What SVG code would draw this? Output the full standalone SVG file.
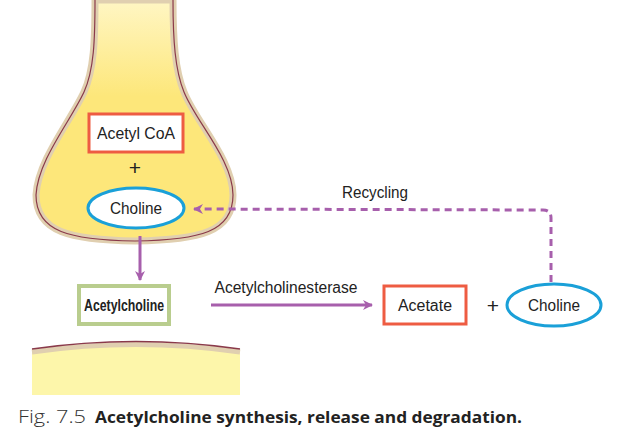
<svg xmlns="http://www.w3.org/2000/svg" width="626" height="443" viewBox="0 0 626 443">
<defs>
<linearGradient id="g" x1="0" y1="0" x2="0" y2="1"><stop offset="0" stop-color="#fff6c4"/><stop offset="0.4" stop-color="#fde77a"/><stop offset="1" stop-color="#fde77a"/></linearGradient>
<marker id="a" markerWidth="10" markerHeight="10" refX="9" refY="5" orient="auto" markerUnits="userSpaceOnUse"><path d="M0,0 L10,5 L0,10 L3,5 Z" fill="#a75fac"/></marker>
</defs>
<style>
.t{font-family:"Liberation Sans",Arial,sans-serif;font-size:16px;fill:#222;text-anchor:middle}
.c{fill:none;stroke:#a75fac;stroke-width:3}
</style>
<g id="presynaptic">
<path d="M95,0 C95,40 94,70 84,92 C70,122 38,160 36,195 C36,232 70,240 135,241 C200,240 233,232 233,195 C233,160 196,122 184,92 C175,70 173,40 173,0 Z" fill="url(#g)" stroke="#e0cfb0" stroke-width="7"/>
<path d="M95,0 C95,40 94,70 84,92 C70,122 38,160 36,195 C36,232 70,240 135,241 C200,240 233,232 233,195 C233,160 196,122 184,92 C175,70 173,40 173,0" fill="none" stroke="#8a3a4a" stroke-width="1.2"/>
</g>
<g id="postsynaptic">
<path d="M32,352 Q136,337 240,352 L240,395 L32,395 Z" fill="#fdf6aa"/>
<path d="M32,352 Q136,337 240,352" fill="none" stroke="#e0cfb0" stroke-width="5"/>
<path d="M32,349 Q136,334 240,349" fill="none" stroke="#8a3a4a" stroke-width="1.5"/>
</g>
<g id="acetylcoa"><rect x="89" y="114" width="94" height="38" fill="#fff" stroke="#ee5c42" stroke-width="3"/><text class="t" x="136" y="139" textLength="78" lengthAdjust="spacingAndGlyphs">Acetyl CoA</text></g>
<text class="t" x="135" y="175" style="font-size:21px">+</text>
<g id="choline1"><ellipse cx="136" cy="208" rx="48" ry="20" fill="#fff" stroke="#1aa0d8" stroke-width="3"/><text class="t" x="136" y="214" textLength="52" lengthAdjust="spacingAndGlyphs">Choline</text></g>
<g id="acetylcholine"><rect x="79" y="286" width="90" height="38" fill="#fff" stroke="#b9cd8e" stroke-width="4"/><text x="124" y="311" text-anchor="middle" font-family="Liberation Sans, Arial, sans-serif" font-size="17" font-weight="bold" fill="#222" textLength="80" lengthAdjust="spacingAndGlyphs">Acetylcholine</text></g>
<g id="acetate"><rect x="384" y="286" width="82" height="38" fill="#fff" stroke="#ee5c42" stroke-width="3"/><text class="t" x="425" y="311" textLength="54" lengthAdjust="spacingAndGlyphs">Acetate</text></g>
<text class="t" x="493" y="313" style="font-size:21px">+</text>
<g id="choline2"><ellipse cx="554" cy="305" rx="47" ry="21" fill="#fff" stroke="#1aa0d8" stroke-width="3"/><text class="t" x="554" y="311" textLength="52" lengthAdjust="spacingAndGlyphs">Choline</text></g>
<g id="connectors">
<line class="c" x1="140" y1="236" x2="140" y2="280" marker-end="url(#a)"/>
<line class="c" x1="211" y1="305" x2="372" y2="305" marker-end="url(#a)"/>
<path class="c" d="M551,282 L551,218 Q551,210 543,210 L194,209" stroke-dasharray="7,5" marker-end="url(#a)"/>
</g>
<text class="t" x="286" y="293" textLength="143" lengthAdjust="spacingAndGlyphs">Acetylcholinesterase</text>
<text class="t" x="375" y="198" textLength="66" lengthAdjust="spacingAndGlyphs">Recycling</text>
<text x="18" y="423" style="font-family:'Open Sans',sans-serif;font-size:18px;font-weight:300;fill:#333" textLength="68" lengthAdjust="spacingAndGlyphs">Fig. 7.5</text>
<text x="95" y="423" style="font-family:'Open Sans',sans-serif;font-size:16.5px;font-weight:bold;fill:#222" textLength="427" lengthAdjust="spacingAndGlyphs">Acetylcholine synthesis, release and degradation.</text>
</svg>
